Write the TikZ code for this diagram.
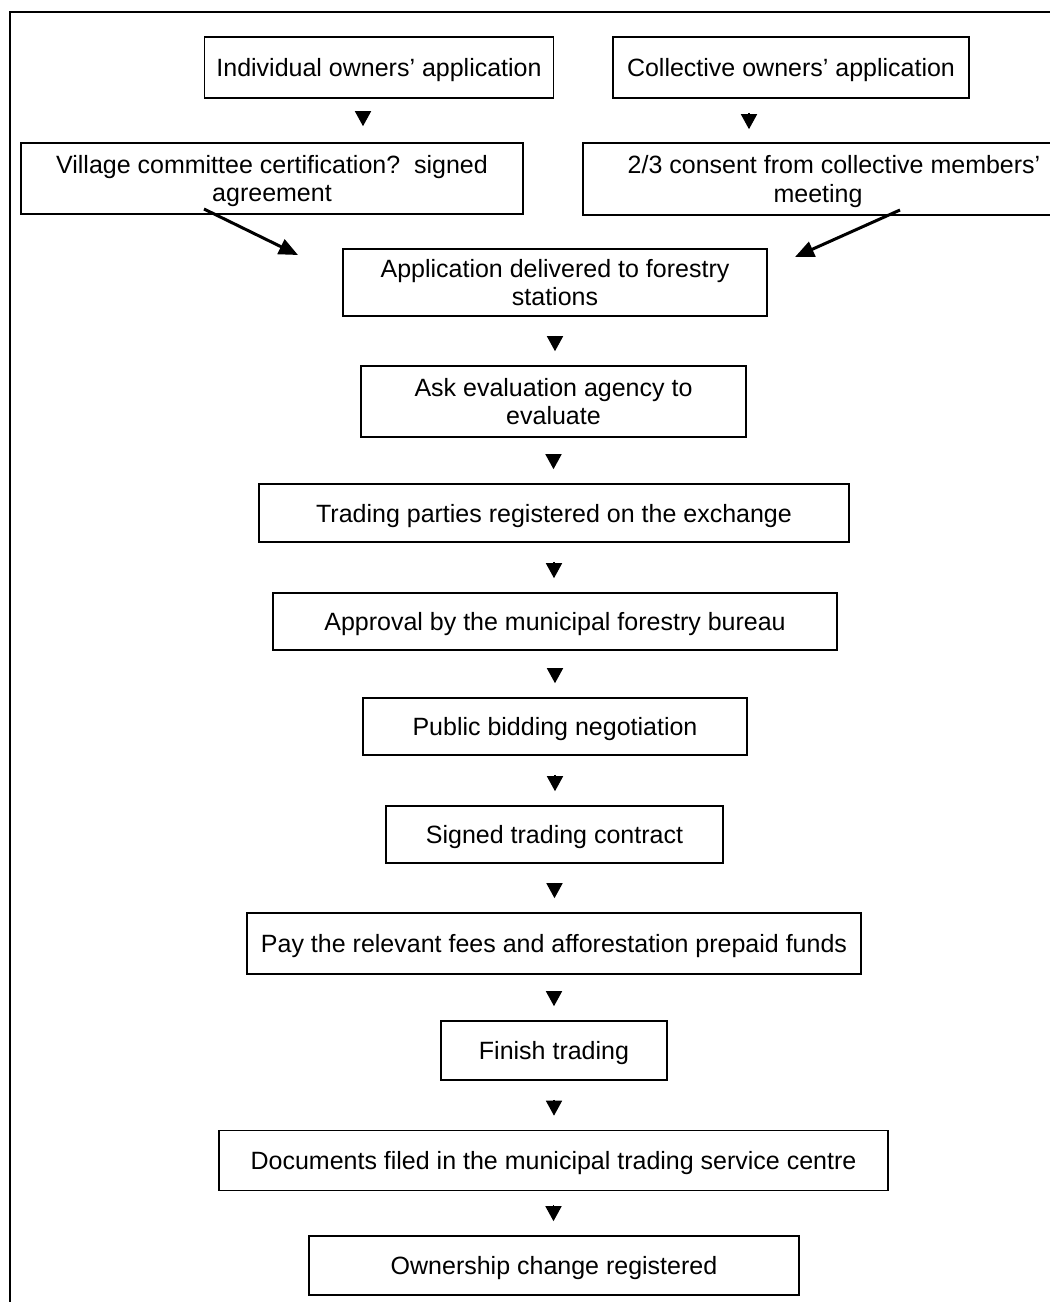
\documentclass[tikz,border=0pt]{standalone}
\usepackage{fontspec}
\setmainfont{Liberation Sans}
\usetikzlibrary{arrows.meta, calc}
\tikzset{
    flowbox/.style args={#1 #2}{
        draw, rectangle, line width=1.6pt, inner sep=0pt, align=center,
        font=\fontsize{25}{28.5}\selectfont, text depth=0pt,
        minimum width=#1, minimum height=#2
    },
    flowbox/.default={300pt 60pt}
}
\tikzset{
    tipdown/.style args={#1 #2}{
        -{Triangle[length=15pt, width=16pt]}, line width=1.5pt,
        shorten <=#1, shorten >=#2
    },
    tipdown/.default={19pt 14pt},
    tipslant/.style={-{Triangle[length=19pt, width=16pt]}, line width=3pt},
    framerule/.style={line width=2pt}
}

\begin{document}
\begin{tikzpicture}[x=1pt, y=-1pt]
    \useasboundingbox (0,0) rectangle (1050,1302);
    \clip (0,0) rectangle (1050,1302);
    % outer frame, cut off at right and bottom
    \draw[framerule] (10,1320) -- (10,12) -- (1070,12);
    % two application branches
    \node[flowbox={349pt 61pt}] (ind) at (379,67.5) {Individual owners’ application};
    \node[flowbox={356pt 61pt}] (col) at (791,67.5) {Collective owners’ application};
    \node[flowbox={502pt 71pt}] (vil) at (272,178.5) {Village committee certification?\ \ signed\\agreement};
    \node[flowbox={470pt 72pt}] (cons) at (818,179) {\hspace*{32pt}2/3 consent from collective members’\\meeting};
    % main column
    \node[flowbox={424pt 67pt}] (deliv) at (555,282.5) {Application delivered to forestry\\stations};
    \node[flowbox={385pt 71pt}] (evalu) at (553.5,401.5) {Ask evaluation agency to\\evaluate};
    \node[flowbox={590pt 58pt}] (parties) at (554,513) {Trading parties registered on the exchange};
    \node[flowbox={564pt 57pt}] (approv) at (555,621.5) {Approval by the municipal forestry bureau};
    \node[flowbox={384pt 57pt}] (bid) at (555,726.5) {Public bidding negotiation};
    \node[flowbox={337pt 57pt}] (contr) at (554.5,834.5) {Signed trading contract};
    \node[flowbox={614pt 61pt}] (fees) at (554,943.5) {Pay the relevant fees and afforestation prepaid funds};
    \node[flowbox={226pt 59pt}] (finish) at (554,1050.5) {Finish trading};
    \node[flowbox={669pt 60pt}] (docs) at (553.5,1160.5) {Documents filed in the municipal trading service centre};
    \node[flowbox={490pt 59pt}] (owner) at (554,1265.5) {Ownership change registered};
    % loose ends of the slanted arrows
    \coordinate (vilout) at (204,209);
    \coordinate (delinl) at (298,255);
    \coordinate (consout) at (900,210);
    \coordinate (delinr) at (795,257);
    \draw[tipdown={13pt 16pt}] ([xshift=-16pt]ind.south) -- ([xshift=-16pt]ind.south |- vil.north);
    \draw[tipdown={14pt 13pt}] ([xshift=-42pt]col.south) -- ([xshift=-42pt]col.south |- cons.north);
    \draw[tipslant] (vilout) -- (delinl);
    \draw[tipslant] (consout) -- (delinr);
    \draw[tipdown] (deliv.south) -- (deliv.south |- evalu.north);
    \draw[tipdown] (evalu.south) -- (evalu.south |- parties.north);
    \draw[tipdown] (parties.south) -- (parties.south |- approv.north);
    \draw[tipdown] (approv.south) -- (approv.south |- bid.north);
    \draw[tipdown] (bid.south) -- (bid.south |- contr.north);
    \draw[tipdown] (contr.south) -- (contr.south |- fees.north);
    \draw[tipdown] (fees.south) -- (fees.south |- finish.north);
    \draw[tipdown] (finish.south) -- (finish.south |- docs.north);
    \draw[tipdown={14pt 14pt}] (docs.south) -- (docs.south |- owner.north);
\end{tikzpicture}
\end{document}
